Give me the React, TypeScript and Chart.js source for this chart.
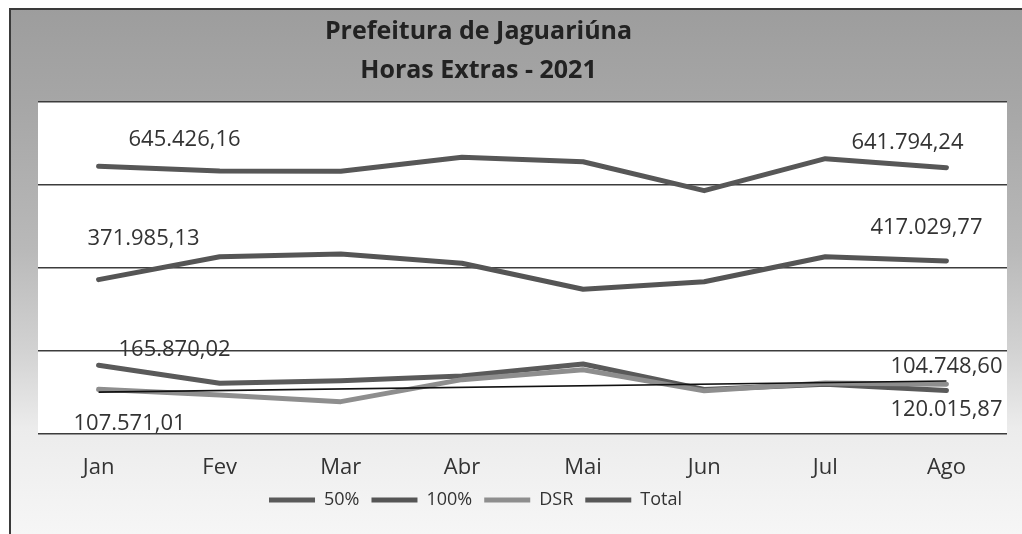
import React, { useEffect, useRef } from "react";
import { Chart, registerables } from "chart.js";

Chart.register(...registerables);

// ---- Data ----
const months = ["Jan", "Fev", "Mar", "Abr", "Mai", "Jun", "Jul", "Ago"];
const seriesNames = ["50%", "100%", "DSR", "Total"];
const valores50 = [165870.02, 122200, 128400, 139800, 168700, 107200, 120000, 104748.6];
const valores100 = [371985.13, 427200, 433700, 411300, 348700, 367000, 427200, 417029.77];
const valoresDSR = [107571.01, 94000, 78000, 131000, 155000, 104000, 123000, 120015.87];
const valoresTotal = [645426.16, 633700, 633000, 666700, 656100, 586300, 663400, 641794.24];
const tendenciaDSR = [101000, null, null, null, null, null, null, 127700];
const titleLines = ["Prefeitura de Jaguariúna", "Horas Extras - 2021"];

// ---- Styles ----
const FONT = '"Open Sans", "Liberation Sans", sans-serif';
const lineColors = ["#5a5a5a", "#555555", "#8e8e8e", "#575757"];
// data label placement (dataset index, point index, offset from point)
const labelSpots = [
  { ds: 3, idx: 0, dx: 86, dy: -26 },
  { ds: 1, idx: 0, dx: 45, dy: -41 },
  { ds: 0, idx: 0, dx: 76, dy: -15 },
  { ds: 2, idx: 0, dx: 31, dy: 34 },
  { ds: 3, idx: 7, dx: -39, dy: -25 },
  { ds: 1, idx: 7, dx: -20, dy: -33 },
  { ds: 0, idx: 7, dx: 0, dy: -24 },
  { ds: 2, idx: 7, dx: 0, dy: 26 },
];

function fmtBR(v: number) {
  const [i, d] = v.toFixed(2).split(".");
  return i.replace(/\B(?=(\d{3})+(?!\d))/g, ".") + "," + d;
}

const backgroundPlugin = {
  id: "bgPlugin",
  beforeDraw(chart: any) {
    const { ctx, width, height, chartArea } = chart;
    ctx.save();
    ctx.fillStyle = "#ffffff";
    ctx.fillRect(0, 0, width, height);
    const g = ctx.createLinearGradient(0, 8, 0, height);
    g.addColorStop(0, "#9d9d9d");
    g.addColorStop(0.18, "#a6a6a6");
    g.addColorStop(0.46, "#b9b9b9");
    g.addColorStop(0.65, "#d2d2d2");
    g.addColorStop(0.8, "#ececec");
    g.addColorStop(1, "#f6f6f6");
    ctx.fillStyle = g;
    ctx.fillRect(9, 8, width - 9, height - 8);
    ctx.fillStyle = "#ffffff";
    ctx.fillRect(
      chartArea.left,
      chartArea.top,
      chartArea.right - chartArea.left,
      chartArea.bottom - chartArea.top
    );
    ctx.strokeStyle = "#3a3a3a";
    ctx.lineWidth = 2;
    ctx.beginPath();
    ctx.moveTo(10, height);
    ctx.lineTo(10, 9);
    ctx.lineTo(width, 9);
    ctx.stroke();
    ctx.restore();
  },
};

const shiftPlugin = {
  id: "shiftPlugin",
  afterLayout(chart: any) {
    const t = chart.titleBlock;
    if (t) {
      t.left -= 44;
      t.right -= 44;
    }
    const l = chart.legend;
    if (l) {
      l.left -= 47;
      l.right -= 47;
    }
  },
};

const labelsPlugin = {
  id: "valueLabels",
  afterDatasetsDraw(chart: any) {
    const { ctx } = chart;
    ctx.save();
    ctx.font = `22px ${FONT}`;
    ctx.fillStyle = "#333333";
    ctx.textAlign = "center";
    ctx.textBaseline = "middle";
    for (const s of labelSpots) {
      const meta = chart.getDatasetMeta(s.ds);
      const pt = meta.data[s.idx];
      const v = chart.data.datasets[s.ds].data[s.idx];
      if (!pt || v == null) continue;
      ctx.fillText(fmtBR(v as number), pt.x + s.dx, pt.y + s.dy);
    }
    ctx.restore();
  },
};

export default function App() {
  const ref = useRef<HTMLCanvasElement | null>(null);

  useEffect(() => {
    document.body.style.margin = "0";
    let chart: Chart | null = null;
    let cancelled = false;
    const make = () => {
      if (cancelled || !ref.current) return;
      const seriesData = [valores50, valores100, valoresDSR, valoresTotal];
      const orders = [4, 3, 2, 1];
      const datasets: any[] = seriesData.map((d, i) => ({
        label: seriesNames[i],
        data: d,
        borderColor: lineColors[i],
        backgroundColor: lineColors[i],
        borderWidth: 5,
        borderCapStyle: "round",
        borderJoinStyle: "round",
        pointRadius: 0,
        pointHoverRadius: 0,
        tension: 0,
        fill: false,
        order: orders[i],
      }));
      datasets.push({
        label: "Linear (DSR)",
        data: tendenciaDSR,
        borderColor: "#111111",
        backgroundColor: "#111111",
        borderWidth: 1.6,
        pointRadius: 0,
        spanGaps: true,
        tension: 0,
        fill: false,
        order: 0,
      });
      chart = new Chart(ref.current, {
        type: "line",
        data: { labels: months, datasets },
        plugins: [backgroundPlugin, shiftPlugin, labelsPlugin],
        options: {
          animation: false,
          responsive: false,
          events: [],
          layout: { padding: { left: 38, right: 15, top: 0, bottom: 15 } },
          scales: {
            x: {
              offset: true,
              grid: { display: false },
              border: { display: false },
              ticks: { color: "#333333", font: { family: FONT, size: 22 }, padding: 13 },
              afterFit: (scale: any) => {
                scale.height = 45;
              },
            },
            y: {
              min: 0,
              max: 800000,
              ticks: { display: false, stepSize: 200000 },
              grid: { color: "#3c3c3c", lineWidth: 1.6, drawTicks: false },
              border: { display: false },
            },
          },
          plugins: {
            title: {
              display: true,
              text: titleLines,
              color: "#222222",
              font: { family: FONT, size: 25, weight: "bold", lineHeight: 1.54 },
              padding: { top: 13, bottom: 12 },
            },
            legend: {
              display: true,
              position: "bottom",
              labels: {
                usePointStyle: true,
                pointStyle: "line",
                pointStyleWidth: 46,
                color: "#333333",
                font: { family: FONT, size: 18 },
                padding: 12,
                filter: (item: any) => item.datasetIndex !== 4,
                sort: (a: any, b: any) => a.datasetIndex - b.datasetIndex,
              },
            },
            tooltip: { enabled: false },
          },
        },
      });
    };
    const fontsReady = (document as any).fonts
      ? Promise.all([
          (document as any).fonts.load(`22px "Open Sans"`),
          (document as any).fonts.load(`bold 25px "Open Sans"`),
        ]).catch(() => null)
      : Promise.resolve(null);
    fontsReady.then(make);
    return () => {
      cancelled = true;
      if (chart) chart.destroy();
    };
  }, []);

  return (
    <div style={{ width: 1022, height: 534 }}>
      <canvas ref={ref} width={1022} height={534} style={{ display: "block" }} />
    </div>
  );
}
